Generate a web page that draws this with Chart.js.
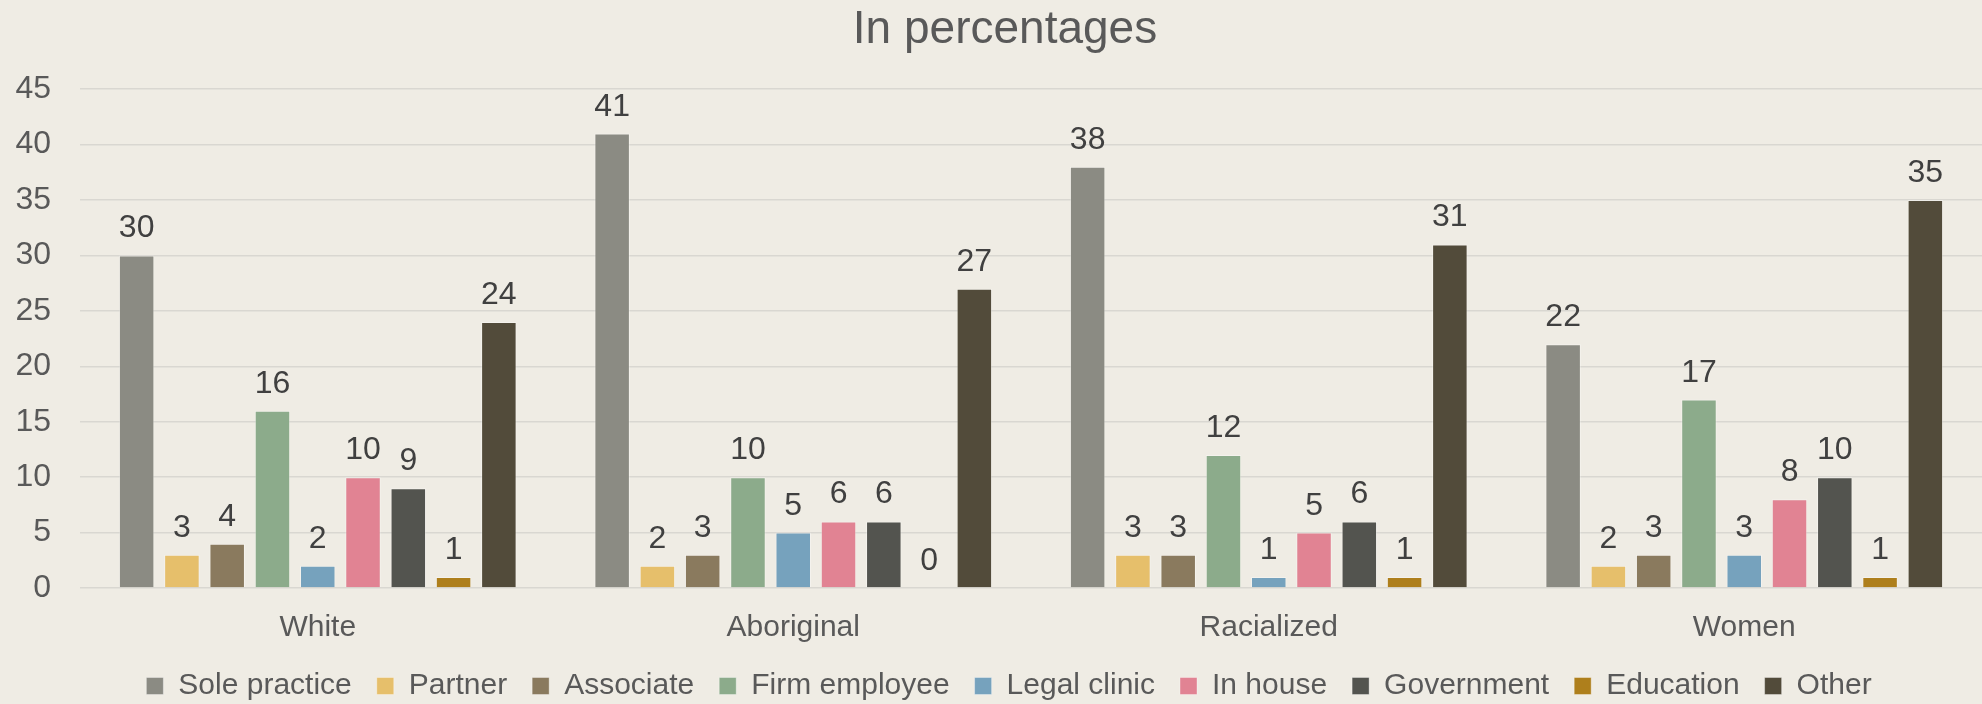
<!DOCTYPE html>
<html>
<head>
<meta charset="utf-8">
<script src="https://cdn.jsdelivr.net/npm/chart.js@4/dist/chart.umd.min.js"></script>
<style>
  html, body { margin: 0; padding: 0; background: #efece4; }
  #wrap { width: 1982px; height: 704px; }
</style>
</head>
<body>
<div id="wrap"><canvas id="mainChart"></canvas></div>
<script>
// groups along the x axis
const categories = ['White', 'Aboriginal', 'Racialized', 'Women'];

// one array per work setting, values per group (percent)
const solePractice   = [30, 41, 38, 22];
const partner        = [3, 2, 3, 2];
const associate      = [4, 3, 3, 3];
const firmEmployee   = [16, 10, 12, 17];
const legalClinic    = [2, 5, 1, 3];
const inHouse        = [10, 6, 5, 8];
const government     = [9, 6, 6, 10];
const education      = [1, 0, 1, 1];
const other          = [24, 27, 31, 35];

const seriesNames = ['Sole practice', 'Partner', 'Associate', 'Firm employee', 'Legal clinic', 'In house', 'Government', 'Education', 'Other'];
const seriesValues = [solePractice, partner, associate, firmEmployee, legalClinic, inHouse, government, education, other];
const seriesColors = ['#8b8b83', '#e6bf6b', '#8a7a5e', '#8cab8b', '#76a2bd', '#e18393', '#53544f', '#ae7f1c', '#524b3a'];

const yTicks = [0, 5, 10, 15, 20, 25, 30, 35, 40, 45];

const FONT = "'Liberation Sans', Arial, sans-serif";

// value labels over each bar
const barLabels = {
    id: 'barLabels',
    afterDatasetsDraw(chart) {
        const ctx = chart.ctx;
        ctx.save();
        ctx.font = '32px ' + FONT;
        ctx.fillStyle = '#404040';
        ctx.textAlign = 'center';
        ctx.textBaseline = 'alphabetic';
        chart.data.datasets.forEach((ds, i) => {
            const meta = chart.getDatasetMeta(i);
            meta.data.forEach((bar, j) => {
                ctx.fillText(String(ds.data[j]), bar.x, bar.y - 18);
            });
        });
        ctx.restore();
    }
};

// nudge title and legend to the right, like the original
const boxShift = {
    id: 'boxShift',
    afterLayout(chart) {
        if (chart.legend) {
            chart.legend.left += 18;
            chart.legend.right += 18;
        }
        if (chart.titleBlock) {
            chart.titleBlock.left += 14;
            chart.titleBlock.right += 14;
        }
    }
};

const bgFill = {
    id: 'bgFill',
    beforeDraw(chart) {
        const ctx = chart.ctx;
        ctx.save();
        ctx.fillStyle = '#efece4';
        ctx.fillRect(0, 0, chart.width, chart.height);
        ctx.restore();
    }
};

const datasets = seriesNames.map((name, i) => ({
    label: name,
    data: seriesValues[i],
    backgroundColor: seriesColors[i],
    borderColor: 'rgba(255,255,255,0.35)',
    borderWidth: 1,
    categoryPercentage: 0.857,
    barPercentage: 0.784
}));

new Chart(document.getElementById('mainChart'), {
    type: 'bar',
    data: { labels: categories, datasets: datasets },
    plugins: [bgFill, barLabels, boxShift],
    options: {
        responsive: true,
        maintainAspectRatio: false,
        animation: false,
        layout: { padding: { left: 0, right: 0, top: 0, bottom: -7 } },
        plugins: {
            title: {
                display: true,
                text: 'In percentages',
                color: '#595959',
                font: { family: FONT, size: 46, weight: 'normal' },
                padding: { top: 3, bottom: 31 }
            },
            legend: {
                position: 'bottom',
                labels: {
                    boxWidth: 17,
                    boxHeight: 17,
                    padding: 25,
                    color: '#595959',
                    font: { family: FONT, size: 30 }
                }
            },
            tooltip: { enabled: false }
        },
        scales: {
            x: {
                grid: { display: false, drawTicks: false },
                border: { display: false },
                ticks: {
                    color: '#595959',
                    font: { family: FONT, size: 30 },
                    padding: 22
                },
                afterFit(scale) { scale.height = 58; }
            },
            y: {
                min: 0,
                max: 45,
                afterBuildTicks(scale) { scale.ticks = yTicks.map(v => ({ value: v })); },
                grid: { color: '#d9d7d1', lineWidth: 1.5, drawTicks: false },
                border: { display: false },
                ticks: {
                    color: '#595959',
                    font: { family: FONT, size: 32 },
                    padding: 29
                },
                afterFit(scale) { scale.width = 80; }
            }
        }
    }
});
</script>
</body>
</html>
